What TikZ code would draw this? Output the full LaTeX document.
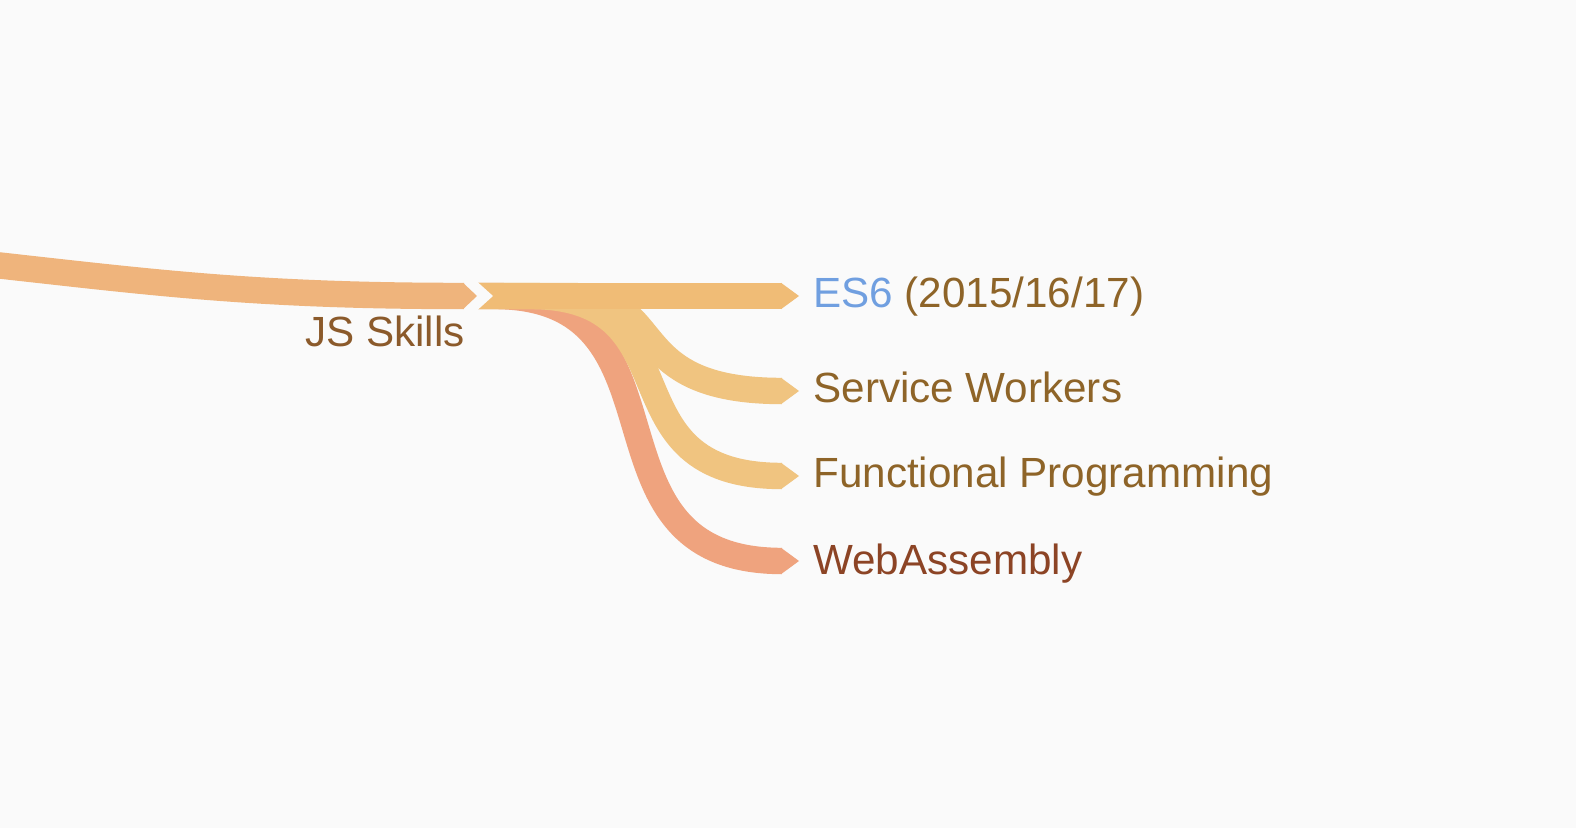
\documentclass[tikz,border=0pt]{standalone}
\usepackage{fontspec}
\setmainfont{Liberation Sans}
\usetikzlibrary{calc}
\definecolor{bgc}{HTML}{FAFAFA}
\definecolor{inband}{HTML}{EFB47C}
\definecolor{mainband}{HTML}{F0BC76}
\definecolor{subband}{HTML}{F0C480}
\definecolor{waband}{HTML}{EFA37E}
\definecolor{jstext}{HTML}{8B5A2B}
\definecolor{goldtext}{HTML}{8E6428}
\definecolor{watext}{HTML}{8C4425}
\definecolor{esblue}{HTML}{709FE0}
\tikzset{
  band/.style={line width=13.2pt, line cap=butt},
  lblfont/.style={font=\fontsize{21.1pt}{25pt}\selectfont},
  lbl/.style={inner sep=0pt, anchor=base west, lblfont},
}
\begin{document}
\begin{tikzpicture}[x=0.5pt, y=-0.5pt]
\fill[bgc] (0,0) rectangle (1576,828);
\useasboundingbox (0,0) rectangle (1576,828);
% coordinates
\coordinate (inStart) at (-30,262.2);
\coordinate (inEnd) at (464,296);
\coordinate (src0) at (478,296);
\coordinate (waSrc) at (494,296);
\coordinate (fpSrc) at (530,296);
\coordinate (swSrc) at (570,296);
\coordinate (esEnd) at (782,296);
\coordinate (swEnd) at (782,391);
\coordinate (fpEnd) at (782,476);
\coordinate (waEnd) at (782,561);
% incoming band
\draw[band, inband] (inStart) .. controls +(180,19.8) and +(-214,0) .. (inEnd);
\fill[inband] (463,282.8) -- (477,296) -- (463,309.2) -- cycle;
% outgoing bands
\draw[band, waband] (src0) -- (waSrc) .. controls (700,296) and (570,561) .. (waEnd);
\fill[waband] ($(waEnd)+(-1,-13.2)$) -- ($(waEnd)+(17,0)$) -- ($(waEnd)+(-1,13.2)$) -- cycle;
\draw[band, subband] (src0) -- (fpSrc) .. controls (700,296) and (600,476) .. (fpEnd);
\fill[subband] ($(fpEnd)+(-1,-13.2)$) -- ($(fpEnd)+(17,0)$) -- ($(fpEnd)+(-1,13.2)$) -- cycle;
\draw[band, subband] (src0) -- (swSrc) .. controls (670,296) and (620,391) .. (swEnd);
\fill[subband] ($(swEnd)+(-1,-13.2)$) -- ($(swEnd)+(17,0)$) -- ($(swEnd)+(-1,13.2)$) -- cycle;
\draw[band, mainband] (src0) -- (esEnd);
\fill[mainband] ($(esEnd)+(-1,-13.2)$) -- ($(esEnd)+(17,0)$) -- ($(esEnd)+(-1,13.2)$) -- cycle;
% notch
\fill[bgc] (477.5,282) -- (493,296) -- (477.5,310) -- cycle;
% labels
\node[inner sep=0pt, anchor=base east, lblfont, text=jstext] (js) at (465,347) {JS Skills};
\node[lbl, text=goldtext] (es6) at (813,308) {\textcolor{esblue}{ES6} (2015/16/17)};
\node[lbl, text=goldtext] (sw) at (813,403) {Service Workers};
\node[lbl, text=goldtext] (fp) at (813,488) {Functional Programming};
\node[lbl, text=watext] (wa) at (813,575) {WebAssembly};
\end{tikzpicture}
\end{document}
